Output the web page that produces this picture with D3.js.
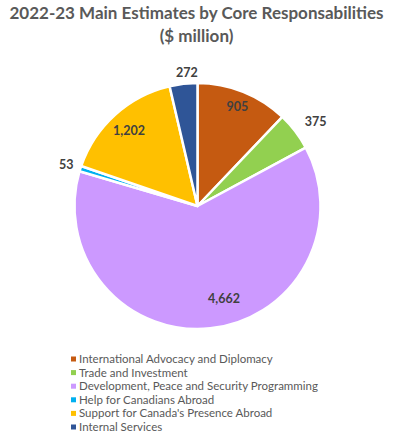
<!DOCTYPE html>
<html><head><meta charset="utf-8">
<script src="https://cdn.jsdelivr.net/npm/d3@7"></script>
<style>body{margin:0;background:#fff}svg{display:block}</style>
</head><body>
<script>
const categories = ["International Advocacy and Diplomacy","Trade and Investment","Development, Peace and Security Programming","Help for Canadians Abroad","Support for Canada's Presence Abroad","Internal Services"];
const values = [905, 375, 4662, 53, 1202, 272];
const labels = ["905","375","4,662","53","1,202","272"];
const colors = ["#C55A11","#92D050","#CC99FF","#00B0F0","#FFC000","#2F5597"];
// label placement: radius as fraction of pie radius, angle fraction along slice
const labelRadius = [0.87, 1.18, 0.78, 1.12, 0.83, 1.09];
const labelAngleFrac = [0.5, 0.6, 0.455, 0.5, 0.5, 0.65];

const W = 393, H = 435;
const cx = 197.5, cy = 206, R = 123;
const font = "Lato, 'Open Sans', sans-serif";

const svg = d3.select("body").append("svg").attr("width", W).attr("height", H);

const title = svg.append("text").attr("text-anchor","middle").attr("fill","#595959")
  .attr("font-family", font).attr("font-weight","bold").attr("font-size",17);
const t1 = title.append("tspan").attr("x", W/2).attr("y", 19).text("2022-23 Main Estimates by Core Responsabilities");
title.append("tspan").attr("x", W/2).attr("y", 42).text("($ million)");
// keep line within the frame
const w1 = t1.node().getComputedTextLength();
if (w1 > 386) title.attr("font-size", 17 * 386 / w1);

const pie = d3.pie().sort(null).value(d => d);
const arcs = pie(values);
const arc = d3.arc().innerRadius(0).outerRadius(R);

const g = svg.append("g").attr("transform", `translate(${cx},${cy})`);
g.selectAll("path").data(arcs).join("path")
  .attr("d", arc).attr("fill", (d,i) => colors[i])
  .attr("stroke", "#fff").attr("stroke-width", 2.5).attr("stroke-linejoin","round");

g.selectAll("text.lbl").data(arcs).join("text").attr("class","lbl")
  .attr("transform", (d,i) => {
    const a = d.startAngle + (d.endAngle - d.startAngle) * labelAngleFrac[i];
    const r = R * labelRadius[i];
    return `translate(${r*Math.sin(a)},${-r*Math.cos(a)})`;
  })
  .attr("text-anchor","middle").attr("dy","0.35em")
  .attr("font-family", font).attr("font-weight","bold").attr("font-size",12.5)
  .attr("fill","#404040")
  .text((d,i) => labels[i]);

const legend = svg.append("g").attr("transform","translate(71,359)");
const rows = legend.selectAll("g").data(categories).join("g")
  .attr("transform", (d,i) => `translate(0,${i*13.6})`);
rows.append("rect").attr("x",0).attr("y",-2.5).attr("width",5).attr("height",5)
  .attr("fill", (d,i) => colors[i]);
rows.append("text").attr("x",8).attr("dy","0.35em")
  .attr("font-family", font).attr("font-size",11.5).attr("fill","#595959")
  .text(d => d);
</script>
</body></html>
